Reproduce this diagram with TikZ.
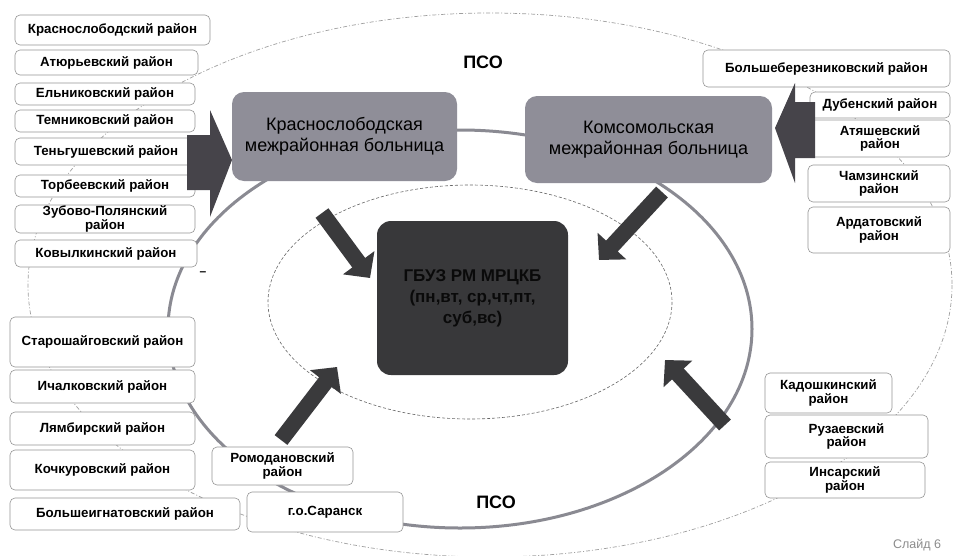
\documentclass[tikz,border=0pt]{standalone}
\usepackage{fontspec}
\setmainfont{Liberation Sans}
\usetikzlibrary{arrows.meta}
\definecolor{hospfill}{RGB}{143,142,152}
\definecolor{ringgray}{RGB}{138,138,146}
\definecolor{arrowgray}{RGB}{58,58,60}
\definecolor{bigarrow}{RGB}{70,68,74}
\definecolor{centerfill}{RGB}{56,56,58}
\definecolor{centertext}{RGB}{10,10,10}
\definecolor{boxline}{RGB}{150,150,150}
\tikzset{
  distbox/.style={draw=boxline, line width=0.6pt, fill=white, rounded corners=5pt,
    align=center, inner sep=0pt, font=\bfseries\fontsize{13.3}{13.8}\selectfont},
  hospbox/.style={fill=hospfill, rounded corners=12pt, align=center, inner sep=0pt,
    font=\fontsize{18}{21}\selectfont},
  centerbox/.style={fill=centerfill, rounded corners=14pt, align=center, inner sep=0pt,
    font=\bfseries\fontsize{17}{21}\selectfont\color{centertext}},
  outerring/.style={draw=gray!75, line width=0.7pt, dash pattern=on 4pt off 2pt on 1pt off 2pt},
  innerdash/.style={draw=gray!80!black, line width=0.6pt, dash pattern=on 3pt off 2pt},
  solidring/.style={draw=ringgray, line width=3pt},
  medarrow/.style={draw=arrowgray, line width=16pt, -{Triangle[length=19pt,width=38pt]}},
  psolabel/.style={font=\bfseries\fontsize{18}{20}\selectfont},
}
\begin{document}
\begin{tikzpicture}[x=1pt,y=-1pt]
\useasboundingbox (0,0) rectangle (953,555);
\fill[white] (0,0) rectangle (953,555);
% rings
\draw[outerring] (490,285) ellipse [x radius=462, y radius=272];
\draw[solidring] (460,329) ellipse [x radius=292, y radius=199];
\draw[innerdash] (470,302) ellipse [x radius=202, y radius=117];
% left column
\node[distbox, minimum width=195, minimum height=30] (kr) at (112.5,30) {Краснослободский район};
\node[distbox, minimum width=183, minimum height=25] (at) at (106.5,62.5) {Атюрьевский район};
\node[distbox, minimum width=180, minimum height=22] (el) at (105,94) {Ельниковский район};
\node[distbox, minimum width=180, minimum height=22] (tem) at (105,121) {Темниковский район};
\node[distbox, minimum width=182, minimum height=27] (ten) at (106,151.5) {Теньгушевский район};
\node[distbox, minimum width=180, minimum height=22] (tor) at (105,186) {Торбеевский район};
\node[distbox, minimum width=180, minimum height=28] (zub) at (105,219) {Зубово-Полянский\\район};
\node[distbox, minimum width=182, minimum height=27] (kov) at (106,253.5) {Ковылкинский район};
\node[font=\bfseries\fontsize{12}{12}\selectfont] (dash) at (203,274) {–};
% lower left
\node[distbox, minimum width=185, minimum height=50] (star) at (102.5,342) {Старошайговский район};
\node[distbox, minimum width=185, minimum height=33] (ich) at (102.5,386.5) {Ичалковский район};
\node[distbox, minimum width=185, minimum height=33] (lyam) at (102.5,428.5) {Лямбирский район};
\node[distbox, minimum width=185, minimum height=40] (koch) at (102.5,470) {Кочкуровский район};
\node[distbox, minimum width=230, minimum height=32] (bi) at (125,514) {Большеигнатовский район};
\node[distbox, minimum width=141, minimum height=38] (rom) at (282.5,466) {Ромодановский\\район};
\node[distbox, minimum width=156, minimum height=40] (sar) at (325,512) {г.о.Саранск};
% right column
\node[distbox, minimum width=247, minimum height=37] (bb) at (826.5,68.5) {Большеберезниковский район};
\node[distbox, minimum width=140, minimum height=26] (dub) at (880,105) {Дубенский район};
\node[distbox, minimum width=140, minimum height=37] (atya) at (880,138.5) {Атяшевский\\район};
\node[distbox, minimum width=142, minimum height=37] (cham) at (879,183.5) {Чамзинский\\район};
\node[distbox, minimum width=142, minimum height=46] (ard) at (879,230) {Ардатовский\\район};
\node[distbox, minimum width=127, minimum height=40] (kad) at (828.5,393) {Кадошкинский\\район};
\node[distbox, minimum width=163, minimum height=43] (ruz) at (846.5,436.5) {Рузаевский\\район};
\node[distbox, minimum width=160, minimum height=36] (ins) at (845,480) {Инсарский\\район};
% hospitals and center
\node[hospbox, minimum width=225, minimum height=89] (khosp) at (344.5,136.5) {Краснослободская\\межрайонная больница};
\node[hospbox, minimum width=247, minimum height=87] (kmhosp) at (648.5,139.5) {Комсомольская\\межрайонная больница};
\node[centerbox, minimum width=191, minimum height=154] (center) at (472.5,298) {ГБУЗ РМ МРЦКБ\\(пн,вт, ср,чт,пт,\\суб,вс)};
% big arrows
\fill[bigarrow] (187,135) -- (210,135) -- (210,110) -- (232,160) -- (210,217) -- (210,190) -- (187,190) -- cycle;
\fill[bigarrow] (815,102) -- (795,102) -- (795,83) -- (775,128) -- (795,183) -- (795,158) -- (815,158) -- cycle;
% medium arrows
\coordinate (a1s) at (322,213); \coordinate (a1e) at (370,278);
\coordinate (a2s) at (662,192); \coordinate (a2e) at (599,260);
\coordinate (a3s) at (281,440); \coordinate (a3e) at (337,367);
\coordinate (a4s) at (725,425); \coordinate (a4e) at (665,360);
\draw[medarrow] (a1s) -- (a1e);
\draw[medarrow] (a2s) -- (a2e);
\draw[medarrow] (a3s) -- (a3e);
\draw[medarrow] (a4s) -- (a4e);
% labels
\node[psolabel] (psotop) at (483,62) {ПСО};
\node[psolabel] (psobot) at (496,502) {ПСО};
\node[text=gray!90, font=\fontsize{12.5}{13}\selectfont] (slide) at (917,545) {Слайд 6};
\end{tikzpicture}
\end{document}
